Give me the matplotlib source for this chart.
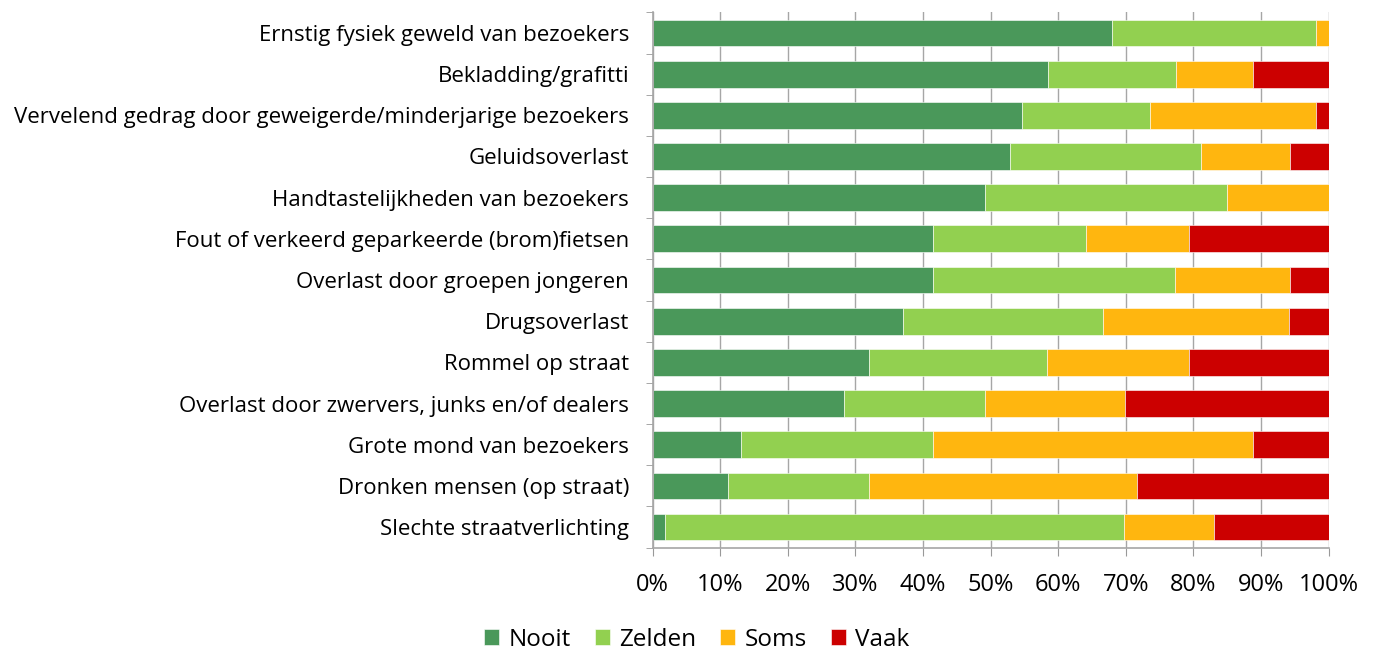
import numpy as np
import matplotlib.pyplot as plt
from matplotlib.ticker import FixedLocator

categories = ['Ernstig fysiek geweld van bezoekers', 'Bekladding/grafitti',
              'Vervelend gedrag door geweigerde/minderjarige bezoekers', 'Geluidsoverlast',
              'Handtastelijkheden van bezoekers', 'Fout of verkeerd geparkeerde (brom)fietsen',
              'Overlast door groepen jongeren', 'Drugsoverlast', 'Rommel op straat',
              'Overlast door zwervers, junks en/of dealers', 'Grote mond van bezoekers',
              'Dronken mensen (op straat)', 'Slechte straatverlichting']
nooit = [67.9, 58.5, 54.7, 52.8, 49.1, 41.4, 41.4, 37.1, 32.0, 28.3, 13.1, 11.2, 1.8]
zelden = [30.2, 18.9, 18.9, 28.3, 35.8, 22.7, 35.9, 29.5, 26.4, 20.8, 28.4, 20.8, 67.9]
soms = [1.9, 11.4, 24.5, 13.2, 15.1, 15.2, 17.0, 27.5, 20.9, 20.7, 47.3, 39.7, 13.3]
vaak = [0.0, 11.2, 1.9, 5.7, 0.0, 20.7, 5.7, 5.9, 20.7, 30.2, 11.2, 28.3, 17.0]
series = ['Nooit', 'Zelden', 'Soms', 'Vaak']
colors = ['#4A985A', '#92D050', '#FFB60F', '#CC0000']

plt.rcParams['font.family'] = ['Open Sans', 'DejaVu Sans']
fig = plt.figure(figsize=(13.77, 6.54), dpi=100)
ax = fig.add_axes([0.474, 0.1626, 0.4909, 0.8185])

y = np.arange(len(categories))
left = np.zeros(len(categories))
for name, vals, c in zip(series, [nooit, zelden, soms, vaak], colors):
    vals = np.array(vals)
    ax.barh(y, vals, left=left, height=0.65, color=c, label=name,
            edgecolor='white', linewidth=0.4, zorder=2)
    left += vals

ax.set_xlim(0, 100)
ax.set_ylim(len(categories) - 0.5, -0.5)
ax.set_xticks(np.arange(0, 101, 10))
ax.set_xticklabels([f'{v}%' for v in range(0, 101, 10)], fontsize=17)
ax.set_yticks(y)
ax.set_yticklabels(categories, fontsize=16)
ax.tick_params(axis='y', length=0, pad=17)
ax.yaxis.set_minor_locator(FixedLocator(np.arange(-0.5, len(categories), 1)))
ax.tick_params(axis='y', which='minor', length=5, color='#999999')
ax.tick_params(axis='x', length=6, color='#999999', pad=12)
ax.grid(axis='x', color='#A6A6A6', linewidth=1, zorder=0)
ax.set_axisbelow(True)
for s in ['top', 'right']:
    ax.spines[s].set_visible(False)
for s in ['left', 'bottom']:
    ax.spines[s].set_color('#A6A6A6')
    ax.spines[s].set_linewidth(1.2)

fig.legend(loc='lower center', bbox_to_anchor=(0.506, -0.03), ncol=4, frameon=False,
           fontsize=17.5, handlelength=0.62, handleheight=0.62, handletextpad=0.37,
           columnspacing=1.0)

fig.savefig('out.png', dpi=100)
